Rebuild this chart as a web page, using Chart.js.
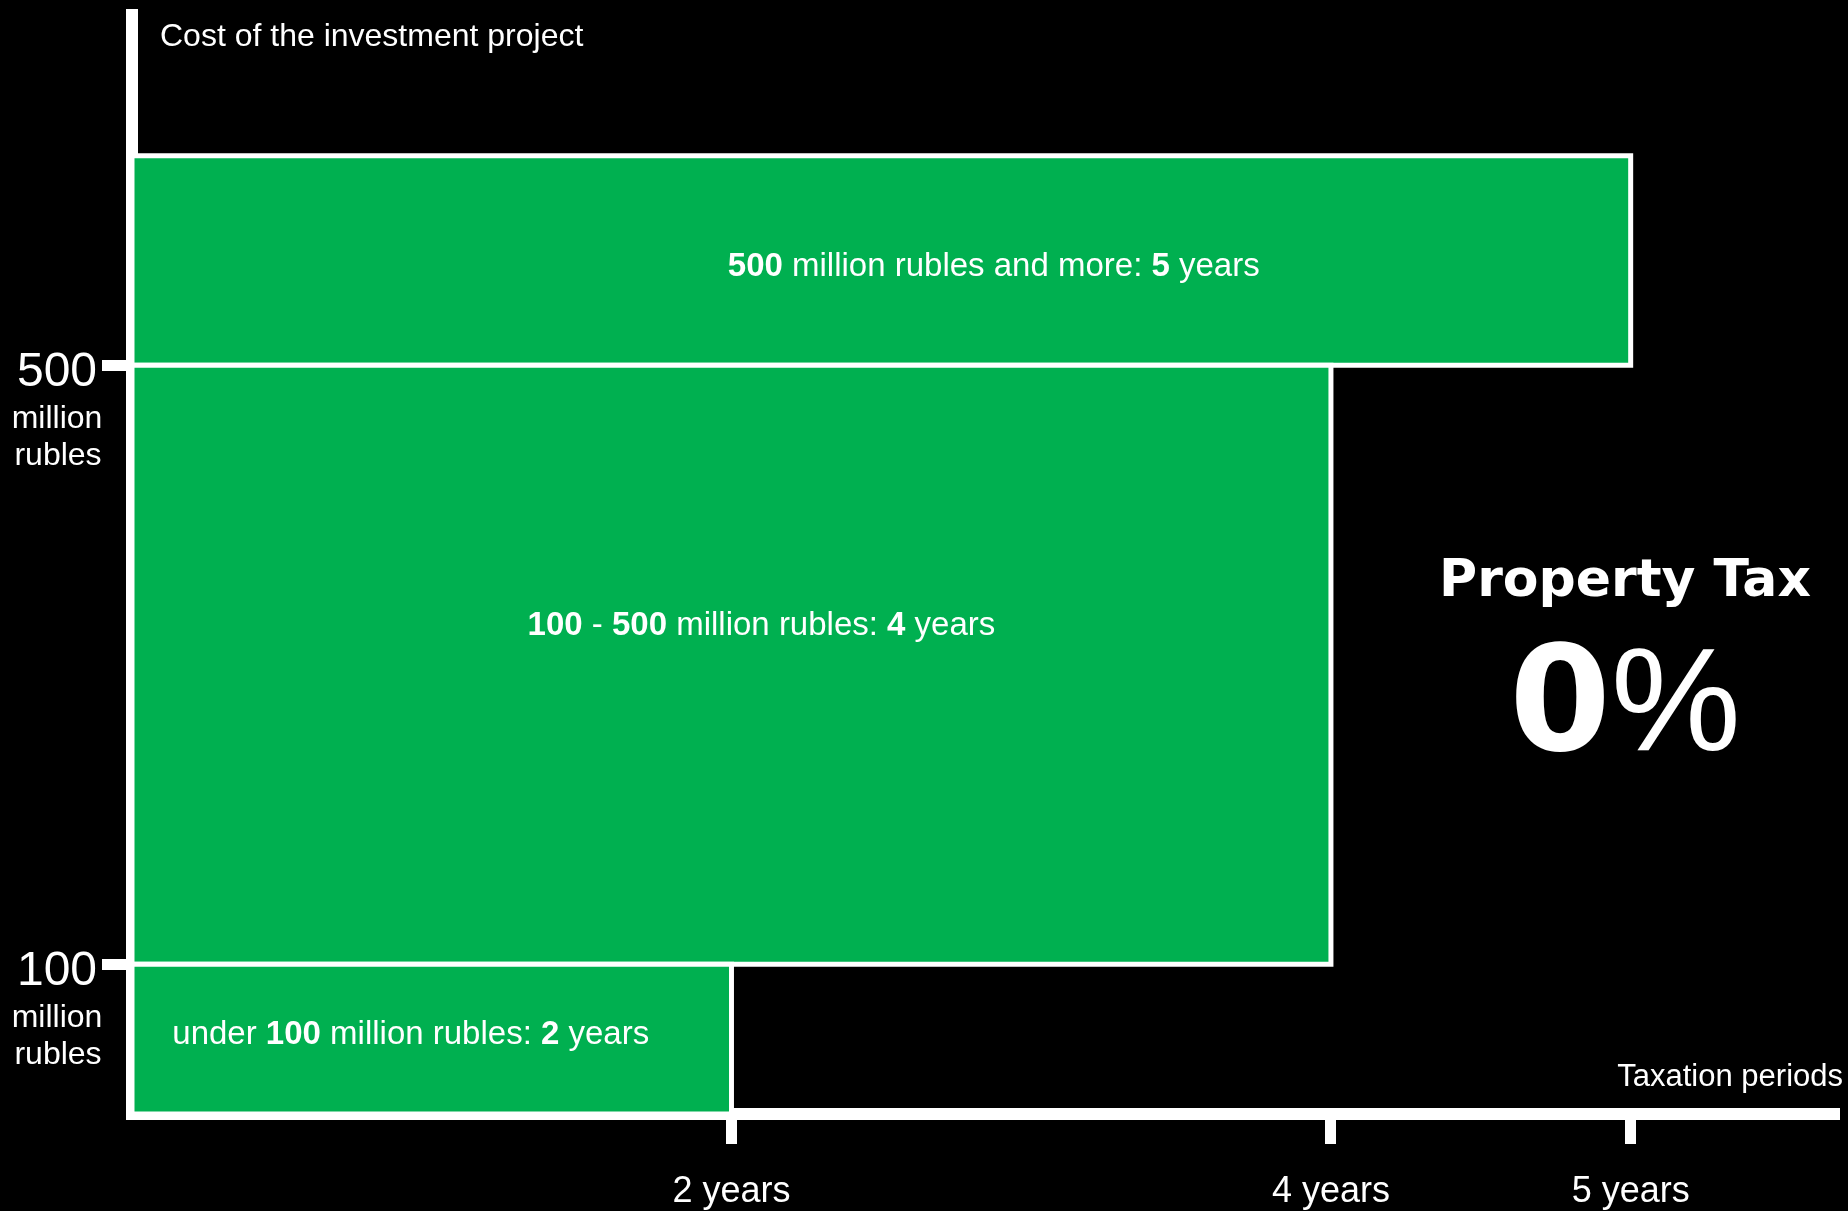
<!DOCTYPE html>
<html>
<head>
<meta charset="utf-8">
<script src="https://cdn.jsdelivr.net/npm/chart.js@4.4.0/dist/chart.umd.min.js"></script>
<style>
  html, body { margin: 0; padding: 0; background: #000; }
  #wrap { width: 1848px; height: 1211px; position: relative; }
</style>
</head>
<body>
<div id="wrap"><canvas id="taxChart"></canvas></div>
<script>
// Property tax holiday, by cost of the investment project
const costFrom = [0, 100, 500];   // million rubles
const costTo = [100, 500, 640];
const taxYears = [2, 4, 5];
const tierText = [
  [['under ', false], ['100', true], [' million rubles: ', false], ['2', true], [' years', false]],
  [['100', true], [' - ', false], ['500', true], [' million rubles: ', false], ['4', true], [' years', false]],
  [['500', true], [' million rubles and more: ', false], ['5', true], [' years', false]]
];
const yearTicks = [2, 4, 5];
const yearLabels = ['2 years', '4 years', '5 years'];
const costTicks = [100, 500];
const costLabels = ['100', '500'];
const costUnit = ['million', 'rubles'];

const GREEN = '#00b050';
const SANS = '"Liberation Sans", Arial, sans-serif';
const WIDE = '"DejaVu Sans", Verdana, sans-serif';

// where each block's caption sits, in axis units (years, million rubles)
const labelAt = [[0.93, 47], [2.1, 320], [2.875, 560]];

function drawRuns(ctx, runs, cx, baseline) {
  let total = 0;
  const widths = runs.map(r => {
    ctx.font = r.font;
    const w = ctx.measureText(r.text).width;
    total += w;
    return w;
  });
  let x = cx - total / 2;
  ctx.textAlign = 'left';
  ctx.textBaseline = 'alphabetic';
  runs.forEach((r, i) => {
    ctx.font = r.font;
    ctx.fillText(r.text, x, baseline);
    x += widths[i];
  });
}

const textPlugin = {
  id: 'slideText',
  afterDraw(chart) {
    const ctx = chart.ctx;
    const xs = chart.scales.x, ys = chart.scales.y;
    ctx.save();
    ctx.fillStyle = '#fff';

    // captions inside the blocks
    tierText.forEach((runs, i) => {
      const cx = xs.getPixelForValue(labelAt[i][0]);
      const by = ys.getPixelForValue(labelAt[i][1]);
      drawRuns(ctx, runs.map(([t, b]) => ({text: t, font: (b ? 'bold ' : '') + '33px ' + SANS})), cx, by);
    });

    // y tick labels: number plus unit underneath
    costTicks.forEach((v, i) => {
      const py = ys.getPixelForValue(v);
      ctx.textAlign = 'center';
      ctx.textBaseline = 'alphabetic';
      ctx.font = '48px ' + SANS;
      ctx.fillText(costLabels[i], 57, py + 21);
      ctx.font = '32px ' + SANS;
      ctx.fillText(costUnit[0], 57, py + 63);
      ctx.fillText(costUnit[1], 58, py + 100);
    });

    // axis names
    ctx.textAlign = 'left';
    ctx.font = '32px ' + SANS;
    ctx.fillText('Cost of the investment project', 160, 46);
    ctx.textAlign = 'right';
    ctx.font = '31px ' + SANS;
    ctx.fillText('Taxation periods', 1843, 1086);

    // headline on the right
    ctx.textAlign = 'center';
    ctx.font = 'bold 52px ' + WIDE;
    ctx.fillText('Property Tax', 1625, 596);
    drawRuns(ctx, [
      {text: '0', font: 'bold 146px ' + WIDE},
      {text: '%', font: '146px ' + SANS}
    ], 1625, 750);

    ctx.restore();
  }
};

const datasets = taxYears.map((yrs, i) => ({
  label: tierText[i].map(r => r[0]).join(''),
  data: [
    {x: 0, y: costFrom[i]},
    {x: 0, y: costTo[i]},
    {x: yrs, y: costTo[i]},
    {x: yrs, y: costFrom[i]},
    {x: 0, y: costFrom[i]}
  ],
  showLine: true,
  fill: 'shape',
  backgroundColor: GREEN,
  borderColor: '#fff',
  borderWidth: 5,
  borderJoinStyle: 'miter',
  borderCapStyle: 'square',
  tension: 0,
  pointRadius: 0,
  pointHoverRadius: 0
}));

new Chart(document.getElementById('taxChart').getContext('2d'), {
  type: 'scatter',
  data: { datasets },
  plugins: [textPlugin],
  options: {
    responsive: true,
    maintainAspectRatio: false,
    animation: false,
    events: [],
    layout: { padding: { top: 15, right: 13.5, left: 0, bottom: 0 } },
    plugins: {
      legend: { display: false },
      tooltip: { enabled: false },
      title: { display: false }
    },
    scales: {
      x: {
        type: 'linear',
        min: 0,
        max: 5.68,
        afterBuildTicks: s => { s.ticks = yearTicks.map(v => ({ value: v })); },
        afterFit: s => { s.height = 97; },
        border: { display: true, color: '#fff', width: 12 },
        grid: {
          drawOnChartArea: false, drawTicks: true, tickLength: 30,
          tickWidth: 11, tickColor: '#fff', lineWidth: 11, color: '#fff'
        },
        ticks: {
          color: '#fff',
          font: { family: SANS, size: 36 },
          padding: 26,
          maxRotation: 0,
          autoSkip: false,
          callback: (v, i) => yearLabels[i]
        }
      },
      y: {
        type: 'linear',
        min: 0,
        max: 734,
        afterBuildTicks: s => { s.ticks = costTicks.map(v => ({ value: v })); },
        afterFit: s => { s.width = 132; },
        border: { display: true, color: '#fff', width: 12 },
        grid: {
          drawOnChartArea: false, drawTicks: true, tickLength: 30,
          tickWidth: 11, tickColor: '#fff', lineWidth: 11, color: '#fff'
        },
        ticks: { display: false }
      }
    }
  }
});
</script>
</body>
</html>
